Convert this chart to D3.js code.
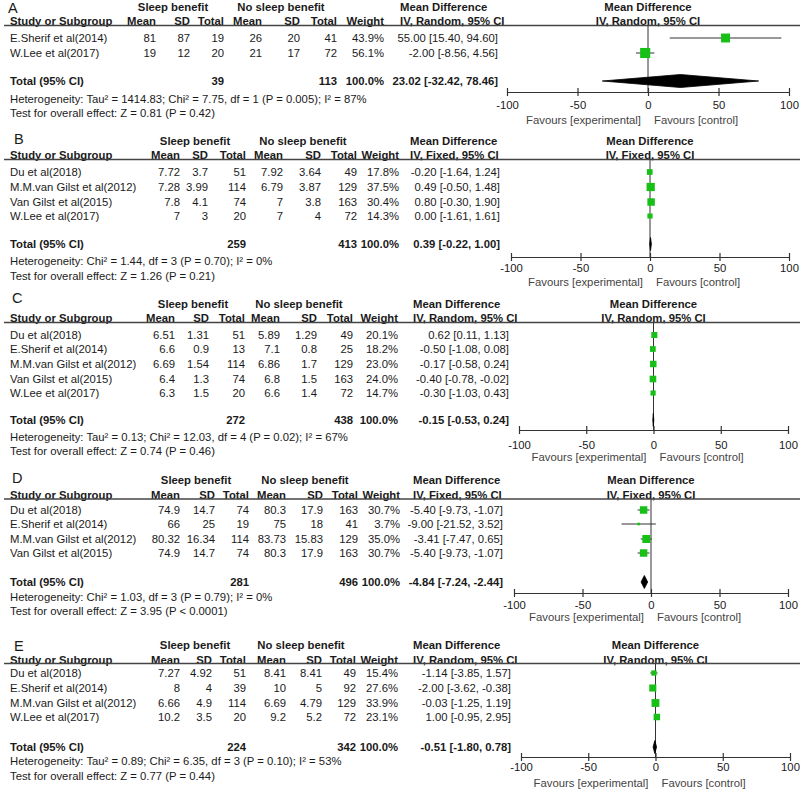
<!DOCTYPE html>
<html><head><meta charset="utf-8">
<script src="https://cdn.jsdelivr.net/npm/d3@7"></script>
<style>
body{margin:0;background:#fff}
text{font-family:"Liberation Sans",Arial,sans-serif;fill:#1a1a1a}
</style>
</head><body>
<svg id="chart" width="800" height="790"></svg>
<script>
// ---------------- DATA ----------------
const tickValues = [-100, -50, 0, 50, 100];
const colHeaders = ["Mean", "SD", "Total", "Mean", "SD", "Total", "Weight"];

// Panel A
const studiesA = ["E.Sherif et al(2014)", "W.Lee et al(2017)"];
const sleepA = [[81, 87, 19], [19, 12, 20]];
const noSleepA = [[26, 20, 41], [21, 17, 72]];
const weightA = [43.9, 56.1];
const mdA = [[55.00, 15.40, 94.60], [-2.00, -8.56, 4.56]];
const totalA = [39, 113, 100.0, 23.02, -32.42, 78.46];
const statsA = ["Heterogeneity: Tau\u00b2 = 1414.83; Chi\u00b2 = 7.75, df = 1 (P = 0.005); I\u00b2 = 87%",
                "Test for overall effect: Z = 0.81 (P = 0.42)"];

// Panel B
const studiesB = ["Du et al(2018)", "M.M.van Gilst et al(2012)", "Van Gilst et al(2015)", "W.Lee et al(2017)"];
const sleepB = [[7.72, 3.7, 51], [7.28, 3.99, 114], [7.8, 4.1, 74], [7, 3, 20]];
const noSleepB = [[7.92, 3.64, 49], [6.79, 3.87, 129], [7, 3.8, 163], [7, 4, 72]];
const weightB = [17.8, 37.5, 30.4, 14.3];
const mdB = [[-0.20, -1.64, 1.24], [0.49, -0.50, 1.48], [0.80, -0.30, 1.90], [0.00, -1.61, 1.61]];
const totalB = [259, 413, 100.0, 0.39, -0.22, 1.00];
const statsB = ["Heterogeneity: Chi\u00b2 = 1.44, df = 3 (P = 0.70); I\u00b2 = 0%",
                "Test for overall effect: Z = 1.26 (P = 0.21)"];

// Panel C
const studiesC = ["Du et al(2018)", "E.Sherif et al(2014)", "M.M.van Gilst et al(2012)", "Van Gilst et al(2015)", "W.Lee et al(2017)"];
const sleepC = [[6.51, 1.31, 51], [6.6, 0.9, 13], [6.69, 1.54, 114], [6.4, 1.3, 74], [6.3, 1.5, 20]];
const noSleepC = [[5.89, 1.29, 49], [7.1, 0.8, 25], [6.86, 1.7, 129], [6.8, 1.5, 163], [6.6, 1.4, 72]];
const weightC = [20.1, 18.2, 23.0, 24.0, 14.7];
const mdC = [[0.62, 0.11, 1.13], [-0.50, -1.08, 0.08], [-0.17, -0.58, 0.24], [-0.40, -0.78, -0.02], [-0.30, -1.03, 0.43]];
const totalC = [272, 438, 100.0, -0.15, -0.53, 0.24];
const statsC = ["Heterogeneity: Tau\u00b2 = 0.13; Chi\u00b2 = 12.03, df = 4 (P = 0.02); I\u00b2 = 67%",
                "Test for overall effect: Z = 0.74 (P = 0.46)"];

// Panel D
const studiesD = ["Du et al(2018)", "E.Sherif et al(2014)", "M.M.van Gilst et al(2012)", "Van Gilst et al(2015)"];
const sleepD = [[74.9, 14.7, 74], [66, 25, 19], [80.32, 16.34, 114], [74.9, 14.7, 74]];
const noSleepD = [[80.3, 17.9, 163], [75, 18, 41], [83.73, 15.83, 129], [80.3, 17.9, 163]];
const weightD = [30.7, 3.7, 35.0, 30.7];
const mdD = [[-5.40, -9.73, -1.07], [-9.00, -21.52, 3.52], [-3.41, -7.47, 0.65], [-5.40, -9.73, -1.07]];
const totalD = [281, 496, 100.0, -4.84, -7.24, -2.44];
const statsD = ["Heterogeneity: Chi\u00b2 = 1.03, df = 3 (P = 0.79); I\u00b2 = 0%",
                "Test for overall effect: Z = 3.95 (P < 0.0001)"];

// Panel E
const studiesE = ["Du et al(2018)", "E.Sherif et al(2014)", "M.M.van Gilst et al(2012)", "W.Lee et al(2017)"];
const sleepE = [[7.27, 4.92, 51], [8, 4, 39], [6.66, 4.9, 114], [10.2, 3.5, 20]];
const noSleepE = [[8.41, 8.41, 49], [10, 5, 92], [6.69, 4.79, 129], [9.2, 5.2, 72]];
const weightE = [15.4, 27.6, 33.9, 23.1];
const mdE = [[-1.14, -3.85, 1.57], [-2.00, -3.62, -0.38], [-0.03, -1.25, 1.19], [1.00, -0.95, 2.95]];
const totalE = [224, 342, 100.0, -0.51, -1.80, 0.78];
const statsE = ["Heterogeneity: Tau\u00b2 = 0.89; Chi\u00b2 = 6.35, df = 3 (P = 0.10); I\u00b2 = 53%",
                "Test for overall effect: Z = 0.77 (P = 0.44)"];

// ---------------- LAYOUT ----------------
const panels = [
  {letter:"A", method:"IV, Random, 95% CI", studies:studiesA, sleep:sleepA, noSleep:noSleepA, weight:weightA, md:mdA, total:totalA, stats:statsA,
   letterX:8, letterY:13, h1:7, h2:21, line:25.5, rows:[38,53], totalY:81, het:99, test:113, axis:92, tickY:105, favY:120,
   cols:[156,190,224,262,300,337,384], ci:498, mdLeft:400, sleepX:173, noSleepX:281, xr:[507,789]},
  {letter:"B", method:"IV, Fixed, 95% CI", studies:studiesB, sleep:sleepB, noSleep:noSleepB, weight:weightB, md:mdB, total:totalB, stats:statsB,
   letterX:14, letterY:144, h1:141, h2:155, line:159.5, rows:[172,187,202,216], totalY:244, het:261, test:276, axis:257, tickY:268, favY:282,
   cols:[180,208,246,283,321,357,399], ci:500, mdLeft:410, sleepX:195, noSleepX:303, xr:[511,789]},
  {letter:"C", method:"IV, Random, 95% CI", studies:studiesC, sleep:sleepC, noSleep:noSleepC, weight:weightC, md:mdC, total:totalC, stats:statsC,
   letterX:12, letterY:303, h1:304, h2:318, line:322.5, rows:[335,349,364,379,393], totalY:420, het:437, test:451, axis:430, tickY:445, favY:457,
   cols:[175,209,245,280,317,353,398], ci:509, mdLeft:413, sleepX:193, noSleepX:299, xr:[519,788]},
  {letter:"D", method:"IV, Fixed, 95% CI", studies:studiesD, sleep:sleepD, noSleep:noSleepD, weight:weightD, md:mdD, total:totalD, stats:statsD,
   letterX:12, letterY:483, h1:480, h2:495, line:499, rows:[510,524,539,553], totalY:582, het:597, test:611, axis:593, tickY:605, favY:617,
   cols:[180,215,249,286,323,358,400], ci:503, mdLeft:413, sleepX:196, noSleepX:305, xr:[514,788]},
  {letter:"E", method:"IV, Random, 95% CI", studies:studiesE, sleep:sleepE, noSleep:noSleepE, weight:weightE, md:mdE, total:totalE, stats:statsE,
   letterX:14, letterY:651, h1:645, h2:660, line:663.5, rows:[673,688,703,717], totalY:747, het:761, test:776, axis:757, tickY:767, favY:783,
   cols:[180,212,246,286,322,356,398], ci:511, mdLeft:413, sleepX:195, noSleepX:301, xr:[521,790]}
];

const svg = d3.select("#chart");
const loc = d3.formatLocale({decimal: ".", thousands: ",", grouping: [3], currency: ["", ""], minus: "-"});
const f2 = loc.format(".2f"), f1 = loc.format(".1f"), fd = loc.format("d");
const fmtMD = v => f2(v[0]) + " [" + f2(v[1]) + ", " + f2(v[2]) + "]";
const sqScale = d3.scaleSqrt().domain([0, 100]).range([0, 13.5]);
const GREEN = "#17c017";
const FS = 11.3;

function txt(g, x, y, s, anchor, bold, size, fill) {
  const t = g.append("text").attr("x", x).attr("y", y).attr("dy", "0.36em")
    .attr("font-size", size || FS).attr("text-anchor", anchor || "start").text(s);
  if (bold) t.attr("font-weight", "bold");
  if (fill) t.style("fill", fill);
  return t;
}

panels.forEach(p => {
  const g = svg.append("g");
  const x = d3.scaleLinear().domain([-100, 100]).range(p.xr);
  const x0 = x(0);

  // letter
  g.append("text").attr("x", p.letterX).attr("y", p.letterY).attr("font-size", 14.5).text(p.letter);

  // header row 1
  txt(g, p.sleepX, p.h1, "Sleep benefit", "middle", true);
  txt(g, p.noSleepX, p.h1, "No sleep benefit", "middle", true);
  txt(g, p.mdLeft, p.h1, "Mean Difference", "start", true);
  txt(g, x0, p.h1, "Mean Difference", "middle", true);

  // header row 2
  txt(g, 10, p.h2, "Study or Subgroup", "start", true);
  colHeaders.forEach((h, i) => txt(g, p.cols[i], p.h2, h, "end", true));
  txt(g, p.mdLeft, p.h2, p.method, "start", true);
  txt(g, x0, p.h2, p.method, "middle", true);

  // header line
  g.append("line").attr("x1", 4).attr("x2", 800).attr("y1", p.line).attr("y2", p.line)
    .attr("stroke", "#444").attr("stroke-width", 1.3);

  // zero line
  g.append("line").attr("x1", x0).attr("x2", x0).attr("y1", p.line).attr("y2", p.axis)
    .attr("stroke", "#333").attr("stroke-width", 1);

  // study rows
  p.studies.forEach((s, i) => {
    const y = p.rows[i];
    txt(g, 10, y, s, "start", false);
    const vals = [...p.sleep[i], ...p.noSleep[i]];
    vals.forEach((v, j) => txt(g, p.cols[j], y, String(v), "end", false));
    txt(g, p.cols[6], y, f1(p.weight[i]) + "%", "end", false);
    txt(g, p.ci, y, fmtMD(p.md[i]), "end", false);
    g.append("line").attr("x1", x(p.md[i][1])).attr("x2", x(p.md[i][2]))
      .attr("y1", y).attr("y2", y).attr("stroke", "#333").attr("stroke-width", 1);
    const s2 = sqScale(p.weight[i]);
    g.append("rect").attr("x", x(p.md[i][0]) - s2 / 2).attr("y", y - s2 / 2)
      .attr("width", s2).attr("height", s2).attr("fill", GREEN);
  });

  // total row
  const ty = p.totalY, t = p.total;
  txt(g, 10, ty, "Total (95% CI)", "start", true);
  txt(g, p.cols[2], ty, String(t[0]), "end", true);
  txt(g, p.cols[5], ty, String(t[1]), "end", true);
  txt(g, p.cols[6], ty, f1(t[2]) + "%", "end", true);
  txt(g, p.ci, ty, fmtMD([t[3], t[4], t[5]]), "end", true);
  const dh = 6.5;
  g.append("path")
    .attr("d", `M${x(t[4])},${ty}L${x(t[3])},${ty - dh}L${x(t[5])},${ty}L${x(t[3])},${ty + dh}Z`)
    .attr("fill", "#000").attr("stroke", "#000").attr("stroke-width", 0.8);

  // stats
  txt(g, 10, p.het, p.stats[0], "start", false);
  txt(g, 10, p.test, p.stats[1], "start", false);

  // axis
  const ax = g.append("g").attr("transform", `translate(0,${p.axis})`)
    .call(d3.axisBottom(x).tickValues(tickValues).tickFormat(fd).tickSizeInner(4).tickSizeOuter(0).tickPadding(4));
  ax.select(".domain").attr("stroke", "#333").attr("stroke-width", 1.2);
  ax.selectAll(".tick line").attr("y1", -4).attr("y2", 4).attr("stroke", "#333").attr("stroke-width", 1.2);
  ax.selectAll(".tick text").attr("y", p.tickY - p.axis).attr("dy", "0.36em")
    .attr("font-size", FS).attr("font-family", "Liberation Sans, Arial, sans-serif").style("fill", "#1a1a1a");

  // favours
  txt(g, x0 - 7, p.favY, "Favours [experimental]", "end", false, FS, "#444");
  txt(g, x0 + 6, p.favY, "Favours [control]", "start", false, FS, "#444");
});
</script>
</body></html>
